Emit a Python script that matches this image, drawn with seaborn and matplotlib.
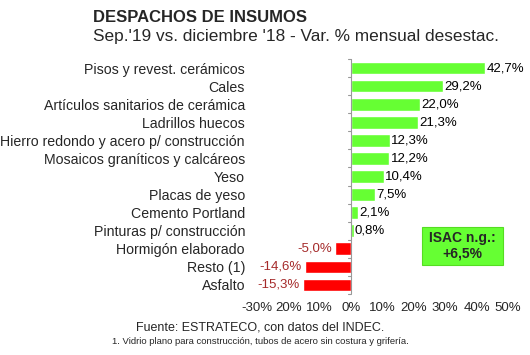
import seaborn as sns
import pandas as pd
import matplotlib.pyplot as plt
from matplotlib.patches import Rectangle

categorias = ["Pisos y revest. cerámicos", "Cales", "Artículos sanitarios de cerámica",
              "Ladrillos huecos", "Hierro redondo y acero p/ construcción",
              "Mosaicos graníticos y calcáreos", "Yeso", "Placas de yeso",
              "Cemento Portland", "Pinturas p/ construcción", "Hormigón elaborado",
              "Resto (1)", "Asfalto"]
variacion = [42.7, 29.2, 22.0, 21.3, 12.3, 12.2, 10.4, 7.5, 2.1, 0.8, -5.0, -14.6, -15.3]
ticks_x = [-30, -20, -10, 0, 10, 20, 30, 40, 50]
ticks_lbl = ["-30%", "20%", "10%", "0%", "10%", "20%", "30%", "40%", "50%"]
isac = "ISAC n.g.:\n+6,5%"

VERDE = "#66FF33"
ROJO = "#FF0000"

sns.set_style("white")
plt.rcParams['font.family'] = ['Liberation Sans', 'DejaVu Sans']

W, H = 530, 355
df = pd.DataFrame({"cat": categorias, "var": variacion})
colores = [VERDE if v >= 0 else ROJO for v in variacion]

fig = plt.figure(figsize=(5.3, 3.55), dpi=100)
ax = fig.add_axes([257 / W, 1 - 294 / H, 251 / W, 235 / H])
sns.barplot(df, x="var", y="cat", hue="cat", palette=colores, legend=False,
            width=0.7, saturation=1, ax=ax)

for i, v in enumerate(variacion):
    txt = f"{v:.1f}%".replace(".", ",")
    if v >= 0:
        ax.text(v + 0.4, i, txt, va="center", ha="left", fontsize=9.5, color="black")
    else:
        ax.text(v - 1.2, i, txt, va="center", ha="right", fontsize=9.5, color="#A52A2A")

ax.set_xlim(-30, 50)
ax.set_ylim(len(categorias) - 0.5, -0.5)
ax.set_xticks(ticks_x)
ax.set_xticklabels(ticks_lbl, fontsize=9.5)
ax.set_xlabel("")
ax.set_ylabel("")
ax.set_yticks(range(len(categorias)))
ax.set_yticklabels(categorias, fontsize=10.2)
# etiquetas terminan en x=245 px, el eje empieza en 257 px
ax.tick_params(axis="y", length=0, pad=12 * 72 / 100)
ax.tick_params(axis="x", length=0, pad=6)

for s in ["top", "right", "bottom", "left"]:
    ax.spines[s].set_visible(False)
ax.axvline(0, color="#999999", lw=0.8)
for b in range(len(categorias) + 1):
    ax.plot([-0.9, 0], [b - 0.5, b - 0.5], color="#999999", lw=0.8, clip_on=False)

fig.patches.append(Rectangle((422 / W, 1 - 265 / H), 81 / W, 38 / H, transform=fig.transFigure,
                             fc=VERDE, ec="#55DD22", lw=0.8))
fig.text(462 / W, 1 - 246 / H, isac, ha="center", va="center", fontsize=10,
         fontweight="bold", linespacing=1.15)

fig.text(93 / W, 1 - 18 / H, "DESPACHOS DE INSUMOS", fontsize=12,
         fontweight="bold", va="center", ha="left")
fig.text(93 / W, 1 - 37 / H, "Sep.'19 vs. diciembre '18 - Var. % mensual desestac.",
         fontsize=12.4, va="center", ha="left")
fig.text(260 / W, 1 - 327 / H, "Fuente: ESTRATECO, con datos del INDEC.",
         fontsize=9, va="center", ha="center")
fig.text(260 / W, 1 - 342 / H,
         "1. Vidrio plano para construcción, tubos de acero sin costura y grifería.",
         fontsize=6.8, va="center", ha="center")

fig.savefig("out.png", dpi=100)
